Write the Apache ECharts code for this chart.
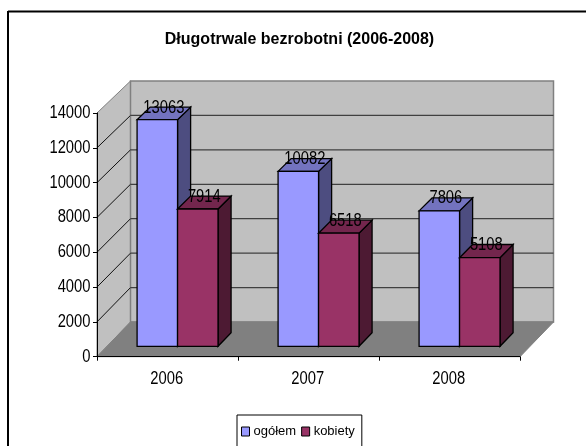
<!DOCTYPE html>
<html>
<head>
<meta charset="utf-8">
<style>
  html, body { margin: 0; padding: 0; background: #fff; }
  #chart { width: 586px; height: 446px; }
</style>
<script src="https://cdn.jsdelivr.net/npm/echarts@6/dist/echarts.min.js"></script>
</head>
<body>
<div id="chart"></div>
<script>
const years = ['2006', '2007', '2008'];
const ogolem = [13063, 10082, 7806];
const kobiety = [7914, 6518, 5108];
const yTicks = [0, 2000, 4000, 6000, 8000, 10000, 12000, 14000];
const yMax = 14000;

// 3D look, in pixels: how far the back wall sits from the axes
const DEPTH_X = 33.5;
const DEPTH_Y = 34.7;
const DEPTH_Y_TOP = 32;
const BAR_Z_FRONT = 0.3;
const BAR_Z_BACK = 0.69;
const BAR_WIDTH = 0.287;
const FONT = '"Liberation Sans", Arial, sans-serif';
const TEXT_FONT = '18px ' + FONT;
const NARROW = 0.82; // the reference text is squeezed sideways

// screen point for a value at depth z (0 = axis plane, 1 = back wall)
function project(x, y, value, z) {
  const dy = DEPTH_Y + (DEPTH_Y_TOP - DEPTH_Y) * value / yMax;
  return [x + DEPTH_X * z, y - dy * z];
}

function poly(points, fill, stroke, lineWidth) {
  return {
    type: 'polygon',
    shape: { points: points },
    style: { fill: fill, stroke: stroke, lineWidth: lineWidth }
  };
}

function narrowText(text, x, y, align) {
  return {
    type: 'text',
    z2: 10,
    x: x,
    y: y,
    scaleX: NARROW,
    style: { x: 0, y: 0, text: text, fill: '#000', font: TEXT_FONT, align: align, verticalAlign: 'middle' }
  };
}

function renderWalls(params, api) {
  const cs = params.coordSys;
  const left = cs.x, right = cs.x + cs.width;
  const y0 = api.coord([0, 0])[1], yTop = api.coord([0, yMax])[1];
  const backL0 = project(left, y0, 0, 1), backLT = project(left, yTop, yMax, 1);
  const backR0 = project(right, y0, 0, 1), backRT = project(right, yTop, yMax, 1);
  const children = [
    poly([[left, y0], [left, yTop], backLT, backL0], '#c0c0c0', '#808080', 1),
    poly([backL0, backLT, backRT, backR0], '#c0c0c0', '#808080', 1.5),
    poly([[left, y0], backL0, backR0, [right, y0]], '#808080', '#808080', 1)
  ];
  return { type: 'group', children: children };
}

function renderGridLine(params, api) {
  const cs = params.coordSys;
  const left = cs.x, right = cs.x + cs.width;
  const value = api.value(1);
  const y = api.coord([0, value])[1];
  const children = [narrowText(String(value), left - 6.5, y, 'right')];
  if (value > 0 && value < yMax) {
    const a = project(left, y, value, 1), b = project(right, y, value, 1);
    children.push(
      { type: 'line', shape: { x1: left, y1: y, x2: a[0], y2: a[1] }, style: { stroke: '#111', lineWidth: 1 } },
      { type: 'line', shape: { x1: a[0], y1: a[1], x2: b[0], y2: b[1] }, style: { stroke: '#404040', lineWidth: 1.3 } }
    );
  }
  return { type: 'group', children: children };
}

function renderYear(params, api) {
  const p = api.coord([api.value(0), 0]);
  return narrowText(years[api.value(0)], p[0] - 0.8, p[1] + 22.5, 'center');
}

// slot: 0 = left bar of the pair, 1 = right bar
function makeBarRenderer(slot, front, top, side) {
  return function (params, api) {
    const value = api.value(1);
    const center = api.coord([api.value(0), 0]);
    const w = api.size([1, 0])[0] * BAR_WIDTH;
    const x1 = center[0] + (slot - 1) * w, x2 = x1 + w;
    const y0 = center[1], yv = api.coord([api.value(0), value])[1];

    const fBL = project(x1, y0, 0, BAR_Z_FRONT), fBR = project(x2, y0, 0, BAR_Z_FRONT);
    const fTL = project(x1, yv, value, BAR_Z_FRONT), fTR = project(x2, yv, value, BAR_Z_FRONT);
    const bBR = project(x2, y0, 0, BAR_Z_BACK);
    const bTL = project(x1, yv, value, BAR_Z_BACK), bTR = project(x2, yv, value, BAR_Z_BACK);

    return {
      type: 'group',
      children: [
        poly([fBR, fTR, bTR, bBR], side, '#000', 1.3),
        poly([fTL, bTL, bTR, fTR], top, '#000', 1.3),
        poly([fBL, fTL, fTR, fBR], front, '#000', 1.3),
        narrowText(String(value), (fTL[0] + bTR[0]) / 2, bTR[1] + 0.5, 'center')
      ]
    };
  };
}

const chart = echarts.init(document.getElementById('chart'), null, { renderer: 'canvas' });

chart.setOption({
  animation: false,
  backgroundColor: '#fff',
  title: {
    text: 'Długotrwale bezrobotni (2006-2008)',
    left: 294.5,
    top: 27,
    textAlign: 'center',
    textStyle: { fontFamily: FONT, fontSize: 16, fontWeight: 'bold', color: '#000' }
  },
  legend: {
    left: 237,
    top: 415,
    data: [
      { name: 'ogółem', icon: 'rect', itemStyle: { color: '#9999ff', borderColor: '#000', borderWidth: 1 } },
      { name: 'kobiety', icon: 'rect', itemStyle: { color: '#993366', borderColor: '#000', borderWidth: 1 } }
    ],
    itemWidth: 8,
    itemHeight: 9,
    itemGap: 5,
    padding: [10, 7, 30, 4],
    borderColor: '#000',
    borderWidth: 1,
    textStyle: { fontFamily: FONT, fontSize: 13, color: '#000', padding: [0, 0, 0, -1] }
  },
  grid: { left: 97, right: 66, top: 113, bottom: 89.3 },
  xAxis: {
    type: 'category',
    data: years,
    z: 10,
    axisLine: { lineStyle: { color: '#000', width: 1 } },
    axisTick: { show: true, length: 4, lineStyle: { color: '#000' } },
    axisLabel: { show: false }
  },
  yAxis: {
    type: 'value',
    min: 0,
    max: yMax,
    interval: 2000,
    z: 10,
    splitLine: { show: false },
    axisLine: { show: true, lineStyle: { color: '#000', width: 1 } },
    axisTick: { show: true, length: 4, lineStyle: { color: '#000' } },
    axisLabel: { show: false }
  },
  graphic: [
    { type: 'line', silent: true, shape: { x1: 8, y1: 11.5, x2: 586, y2: 11.5 }, style: { stroke: '#000', lineWidth: 2 } },
    { type: 'line', silent: true, shape: { x1: 8, y1: 11, x2: 8, y2: 446 }, style: { stroke: '#000', lineWidth: 2 } }
  ],
  series: [
    { type: 'custom', silent: true, z: 1, renderItem: renderWalls, data: [[0, 0]], encode: { x: 0, y: 1 } },
    { type: 'custom', silent: true, z: 2, renderItem: renderGridLine, data: yTicks.map(v => [0, v]), encode: { x: 0, y: 1 } },
    { type: 'custom', silent: true, z: 2, renderItem: renderYear, data: years.map((y, i) => [i, 0]), encode: { x: 0, y: 1 } },
    {
      name: 'ogółem',
      type: 'custom',
      z: 3,
      color: '#9999ff',
      renderItem: makeBarRenderer(0, '#9999ff', '#7373bf', '#4d4d80'),
      data: ogolem.map((v, i) => [i, v]),
      encode: { x: 0, y: 1 }
    },
    {
      name: 'kobiety',
      type: 'custom',
      z: 4,
      color: '#993366',
      renderItem: makeBarRenderer(1, '#993366', '#73264d', '#4d1a33'),
      data: kobiety.map((v, i) => [i, v]),
      encode: { x: 0, y: 1 }
    }
  ]
});

window.addEventListener('resize', () => {
  chart.resize();
});
</script>
</body>
</html>
